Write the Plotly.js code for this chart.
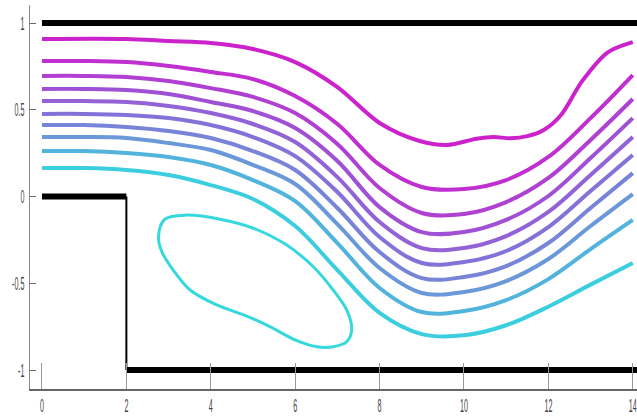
<!DOCTYPE html>
<html>
<head>
<meta charset="utf-8">
<script src="https://cdn.plot.ly/plotly-3.0.1.min.js"></script>
<style>
  html, body { margin: 0; padding: 0; background: #ffffff; }
  #chart { width: 637px; height: 418px; }
</style>
</head>
<body>
<div id="chart"></div>
<script>
// ---- data ----
var xs = [0, 1, 2, 3, 4, 5, 6, 7, 8, 9, 10, 11, 12, 13, 14];

var line1X = [0, 2, 3, 4, 5, 6, 7, 8, 8.95, 9.6, 10.3, 10.7, 11.1, 11.5, 11.9, 12.3, 12.8, 13.4, 14];
var line1Y = [0.908, 0.908, 0.896, 0.885, 0.850, 0.775, 0.631, 0.424, 0.320, 0.297, 0.333, 0.343, 0.336, 0.348, 0.385, 0.470, 0.665, 0.830, 0.890];

var line2Y  = [0.781, 0.781, 0.775, 0.752, 0.718, 0.677, 0.579, 0.418, 0.182, 0.055, 0.043, 0.095, 0.228, 0.452, 0.700];
var line3Y  = [0.695, 0.695, 0.689, 0.666, 0.625, 0.574, 0.481, 0.303, 0.049, -0.095, -0.101, -0.032, 0.107, 0.326, 0.562];
var line4Y  = [0.620, 0.620, 0.614, 0.591, 0.545, 0.493, 0.395, 0.205, -0.061, -0.205, -0.205, -0.135, 0.003, 0.222, 0.452];
var line5Y  = [0.550, 0.550, 0.545, 0.522, 0.481, 0.418, 0.314, 0.112, -0.147, -0.297, -0.297, -0.228, -0.089, 0.124, 0.343];
var line6Y  = [0.476, 0.476, 0.470, 0.452, 0.412, 0.343, 0.233, 0.026, -0.233, -0.383, -0.378, -0.314, -0.176, 0.032, 0.239];
var line7Y  = [0.412, 0.412, 0.401, 0.378, 0.337, 0.262, 0.153, -0.066, -0.320, -0.470, -0.464, -0.401, -0.268, -0.066, 0.135];
var line8Y  = [0.343, 0.343, 0.337, 0.308, 0.268, 0.182, 0.072, -0.159, -0.412, -0.556, -0.550, -0.487, -0.360, -0.170, 0.014];
var line9Y  = [0.262, 0.262, 0.251, 0.228, 0.182, 0.095, -0.026, -0.268, -0.527, -0.666, -0.660, -0.597, -0.476, -0.303, -0.135];
var line10Y = [0.164, 0.164, 0.153, 0.124, 0.066, -0.014, -0.170, -0.424, -0.671, -0.793, -0.800, -0.742, -0.635, -0.508, -0.383];

var loopX = [2.76, 2.91, 3.43, 4.22, 5.01, 5.80, 6.43, 6.90, 7.22, 7.34, 7.22, 6.90, 6.51, 6.04, 5.40, 4.85, 4.14, 3.51, 3.11, 2.84, 2.76];
var loopY = [-0.232, -0.131, -0.107, -0.131, -0.183, -0.280, -0.405, -0.539, -0.654, -0.769, -0.837, -0.866, -0.866, -0.831, -0.750, -0.689, -0.625, -0.539, -0.424, -0.318, -0.232];

// walls of the channel with the backward-facing step
var topWallX = [0, 14.2];      var topWallY = [1, 1];
var stepTopX = [0, 2];         var stepTopY = [0, 0];
var stepVertX = [2, 2];        var stepVertY = [0, -1];
var bottomWallX = [2, 14.2];   var bottomWallY = [-1, -1];

var xTickVals = [0, 2, 4, 6, 8, 10, 12, 14];
var xTickText = ['0', '2', '4', '6', '8', '10', '12', '14'];
var yTickVals = [-1, -0.5, 0, 0.5, 1];
var yTickText = ['-1', '-0.5', '0', '0.5', '1'];

var lineColors = ['#cc22cc', '#c02fd0', '#b040d2', '#a050d4', '#9262d6', '#8472d8', '#7884d8', '#6a98d8', '#52b4dc', '#3ccedf'];
var loopColor = '#35d8dc';

// ---- traces ----
var streamYs = [line2Y, line3Y, line4Y, line5Y, line6Y, line7Y, line8Y, line9Y, line10Y];
var traces = [];

traces.push({x: topWallX, y: topWallY, mode: 'lines', line: {color: '#000', width: 6}, hoverinfo: 'skip'});
traces.push({x: stepTopX, y: stepTopY, mode: 'lines', line: {color: '#000', width: 6}, hoverinfo: 'skip'});
traces.push({x: stepVertX, y: stepVertY, mode: 'lines', line: {color: '#000', width: 2}, hoverinfo: 'skip'});
traces.push({x: bottomWallX, y: bottomWallY, mode: 'lines', line: {color: '#000', width: 6}, hoverinfo: 'skip'});

traces.push({x: line1X, y: line1Y, mode: 'lines', line: {color: lineColors[0], width: 4, shape: 'spline', smoothing: 0.9}});
for (var i = 0; i < streamYs.length; i++) {
  traces.push({x: xs, y: streamYs[i], mode: 'lines',
    line: {color: lineColors[i + 1], width: 4, shape: 'spline', smoothing: 1.0}});
}
traces.push({x: loopX, y: loopY, mode: 'lines', line: {color: loopColor, width: 3, shape: 'spline', smoothing: 1.0}});

var tickFont = {family: '"Liberation Sans", Arial, sans-serif', size: 13, color: '#444'};

var layout = {
  width: 637, height: 418,
  margin: {l: 30, r: 0, t: 5, b: 29, pad: 0},
  paper_bgcolor: '#ffffff', plot_bgcolor: '#ffffff',
  showlegend: false,
  xaxis: {
    range: [-0.284, 14.1], showgrid: false, zeroline: false,
    showline: true, linecolor: '#666', linewidth: 2, mirror: false,
    ticks: 'inside', ticklen: 26, tickcolor: '#999', tickwidth: 1,
    tickvals: xTickVals, ticktext: xTickText, tickfont: tickFont,
    ticklabelstandoff: 3, ticklabeloverflow: 'allow'
  },
  yaxis: {
    range: [-1.1095, 1.104], showgrid: false, zeroline: false,
    showline: true, linecolor: '#888', linewidth: 1, mirror: false,
    ticks: 'inside', ticklen: 6, tickcolor: '#666', tickwidth: 1,
    tickvals: yTickVals, ticktext: yTickText, tickfont: tickFont,
    ticklabelstandoff: 2
  }
};

Plotly.newPlot('chart', traces, layout, {staticPlot: true, displayModeBar: false}).then(function () {
  // the reference's tick labels are tall and narrow: squeeze them horizontally, stretch vertically
  var texts = document.querySelectorAll('.xtick text, .ytick text');
  texts.forEach(function (t) {
    var bb = t.getBBox();
    var anchor = t.getAttribute('text-anchor');
    var cx = anchor === 'end' ? bb.x + bb.width : bb.x + bb.width / 2;
    var cy = bb.y + bb.height / 2;
    var tr = t.getAttribute('transform') || '';
    t.setAttribute('transform', tr + ' translate(' + cx + ',' + cy + ') scale(0.55,1.45) translate(' + (-cx) + ',' + (-cy) + ')');
  });
});
</script>
</body>
</html>
